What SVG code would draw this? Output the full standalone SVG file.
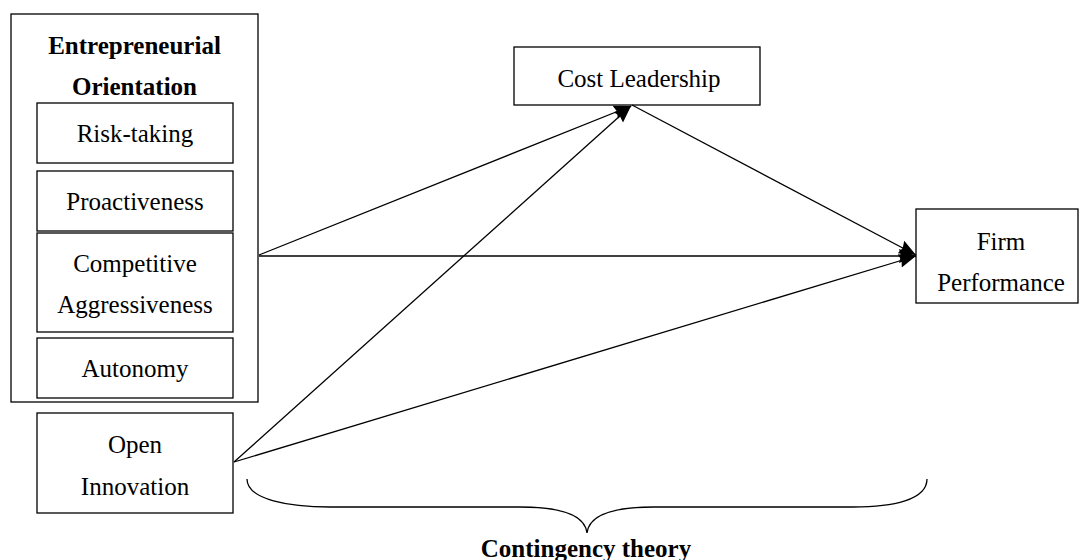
<svg xmlns="http://www.w3.org/2000/svg" width="1087" height="560" viewBox="0 0 1087 560">
  <style>
    .box { fill: #ffffff; stroke: #000000; stroke-width: 1.3; }
    .t { font-family: "Liberation Serif", "Times New Roman", serif; font-size: 25px; fill: #000000; text-anchor: middle; }
    .b { font-weight: bold; }
    .conn { stroke: #000000; stroke-width: 1.3; fill: none; }
  </style>
  <defs>
    <marker id="arrow" markerUnits="userSpaceOnUse" markerWidth="18" markerHeight="16" refX="17" refY="8" orient="auto">
      <path d="M0,1 L17,8 L0,15 L2,8 Z" fill="#000000"/>
    </marker>
  </defs>
  <rect width="1087" height="560" fill="#ffffff"/>

  <g id="entrepreneurial-orientation">
    <rect class="box" x="11" y="14" width="247" height="388"/>
    <text class="t b" x="134.5" y="54">Entrepreneurial</text>
    <text class="t b" x="134.5" y="95">Orientation</text>
  </g>
  <g id="risk-taking">
    <rect class="box" x="37" y="103" width="196" height="60"/>
    <text class="t" x="135" y="142">Risk-taking</text>
  </g>
  <g id="proactiveness">
    <rect class="box" x="37" y="171" width="196" height="60"/>
    <text class="t" x="135" y="210">Proactiveness</text>
  </g>
  <g id="competitive-aggressiveness">
    <rect class="box" x="37" y="233" width="196" height="99"/>
    <text class="t" x="135" y="272">Competitive</text>
    <text class="t" x="135" y="313">Aggressiveness</text>
  </g>
  <g id="autonomy">
    <rect class="box" x="37" y="338" width="196" height="60"/>
    <text class="t" x="135" y="377">Autonomy</text>
  </g>
  <g id="open-innovation">
    <rect class="box" x="37" y="413" width="196" height="100"/>
    <text class="t" x="135" y="453">Open</text>
    <text class="t" x="135" y="495">Innovation</text>
  </g>
  <g id="cost-leadership">
    <rect class="box" x="514" y="47" width="246" height="58"/>
    <text class="t" x="639" y="87">Cost Leadership</text>
  </g>
  <g id="firm-performance">
    <rect class="box" x="916" y="209" width="162" height="94"/>
    <text class="t" x="1001" y="250">Firm</text>
    <text class="t" x="1001" y="291">Performance</text>
  </g>

  <g id="connectors">
    <line class="conn" x1="259" y1="255" x2="631" y2="106" marker-end="url(#arrow)"/>
    <line class="conn" x1="234" y1="462" x2="631" y2="106" marker-end="url(#arrow)"/>
    <line class="conn" x1="259" y1="256" x2="916" y2="256" marker-end="url(#arrow)"/>
    <line class="conn" x1="632" y1="105" x2="916" y2="255" marker-end="url(#arrow)"/>
    <line class="conn" x1="234" y1="462" x2="916" y2="256" marker-end="url(#arrow)"/>
  </g>

  <g id="contingency-theory">
    <path class="conn" d="M247,479 C247,500 290,507 330,507 L520,507 C560,507 585,515 587,533 C589,515 614,507 654,507 L853,507 C893,507 927,500 927,479"/>
    <text class="t b" x="586" y="557">Contingency theory</text>
  </g>
</svg>
